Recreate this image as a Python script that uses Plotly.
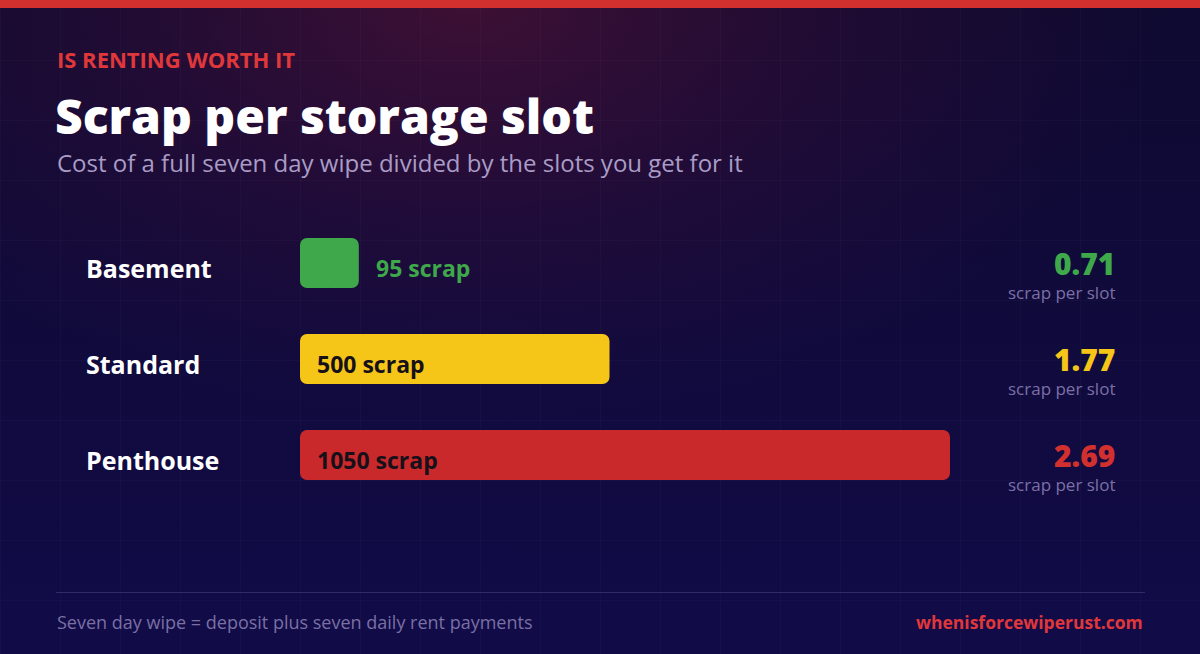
import base64
import plotly.graph_objects as go

# data
rooms = ["Basement", "Standard", "Penthouse"]
wipe_cost = [95, 500, 1050]  # scrap for a full seven day wipe
per_slot = [0.71, 1.77, 2.69]  # scrap per storage slot

W, H = 1200, 654
bar_colors = ["#3ea84a", "#f5c518", "#c9292b"]
value_colors = ["#3ea84a", "#f5c518", "#d2302f"]
RED = "#e0383a"
FONT = "Open Sans"


def px(x):
    return x / W


def py(y):
    # pixel from top -> paper
    return 1 - y / H


# background: gradient + red glow + faint grid, as an inline svg
svg = f"""<svg xmlns='http://www.w3.org/2000/svg' width='{W}' height='{H}'>
<defs>
<linearGradient id='bg' x1='0' y1='0' x2='0' y2='1'>
<stop offset='0' stop-color='#0f0a30'/><stop offset='1' stop-color='#110b48'/>
</linearGradient>
<radialGradient id='glow' gradientUnits='userSpaceOnUse' cx='470' cy='0' r='700'
 gradientTransform='translate(470 0) scale(1 0.6) translate(-470 0)'>
<stop offset='0' stop-color='#c42040' stop-opacity='0.26'/>
<stop offset='0.5' stop-color='#a01840' stop-opacity='0.12'/>
<stop offset='1' stop-color='#801040' stop-opacity='0'/>
</radialGradient>
<pattern id='grid' width='60' height='60' patternUnits='userSpaceOnUse'>
<path d='M60 0 L0 0 0 60' fill='none' stroke='#ffffff' stroke-opacity='0.035' stroke-width='1'/>
</pattern>
</defs>
<rect width='{W}' height='{H}' fill='url(#bg)'/>
<rect width='{W}' height='{H}' fill='url(#glow)'/>
<rect width='{W}' height='{H}' fill='url(#grid)'/>
</svg>"""
bg_uri = "data:image/svg+xml;base64," + base64.b64encode(svg.encode()).decode()

fig = go.Figure()

# each bar is drawn as two overlapping halves so both ends get rounded corners
for name, cost, col in zip(rooms, wipe_cost, bar_colors):
    fig.add_trace(go.Bar(
        x=[-cost * 0.6], base=[cost * 0.6], y=[name], orientation="h",
        marker=dict(color=col, line=dict(width=0), cornerradius=7),
        width=0.52, hoverinfo="skip", showlegend=False,
    ))
    fig.add_trace(go.Bar(
        x=[cost * 0.6], base=[cost * 0.4], y=[name], orientation="h",
        marker=dict(color=col, line=dict(width=0), cornerradius=7),
        width=0.52, hoverinfo="skip", showlegend=False,
    ))

# row texts sit a few pixels below the bar centre
TXT = -5
annotations = []
for i, (name, cost, val) in enumerate(zip(rooms, wipe_cost, per_slot)):
    # room name
    annotations.append(dict(
        xref="paper", yref="y", x=px(84), y=name, xanchor="left", yanchor="middle",
        yshift=TXT, text=f"<b>{name}</b>", showarrow=False,
        font=dict(family=FONT, size=25, color="white"),
    ))
    # cost label, outside when the bar is too short
    if cost < 200:
        annotations.append(dict(
            xref="x", yref="y", x=cost, y=name, xanchor="left", yanchor="middle",
            xshift=15, yshift=TXT, text=f"<b>{cost} scrap</b>", showarrow=False,
            font=dict(family=FONT, size=23, color=bar_colors[i]),
        ))
    else:
        annotations.append(dict(
            xref="x", yref="y", x=0, y=name, xanchor="left", yanchor="middle",
            xshift=15, yshift=TXT, text=f"<b>{cost} scrap</b>", showarrow=False,
            font=dict(family=FONT, size=23, color="#16101a"),
        ))
    # value on the right
    annotations.append(dict(
        xref="paper", yref="y", x=px(1117), y=name, xanchor="right", yanchor="middle",
        yshift=0, text=f"{val:.2f}", showarrow=False,
        font=dict(family=FONT, size=30, color=value_colors[i], weight=800),
    ))
    annotations.append(dict(
        xref="paper", yref="y", x=px(1117), y=name, xanchor="right", yanchor="middle",
        yshift=-29, text="scrap per slot", showarrow=False,
        font=dict(family=FONT, size=17, color="#7c70a6"),
    ))

# header and footer texts
annotations += [
    dict(xref="paper", yref="paper", x=px(55), y=py(59), xanchor="left", yanchor="middle",
         text="<b>IS RENTING WORTH IT</b>", showarrow=False,
         font=dict(family=FONT, size=22, color=RED)),
    dict(xref="paper", yref="paper", x=px(53), y=py(116), xanchor="left", yanchor="middle",
         text="Scrap per storage slot", showarrow=False,
         font=dict(family=FONT, size=48, color="white", weight=800)),
    dict(xref="paper", yref="paper", x=px(55), y=py(162), xanchor="left", yanchor="middle",
         text="Cost of a full seven day wipe divided by the slots you get for it", showarrow=False,
         font=dict(family=FONT, size=24, color="#a99cc6")),
    dict(xref="paper", yref="paper", x=px(55), y=py(622), xanchor="left", yanchor="middle",
         text="Seven day wipe = deposit plus seven daily rent payments", showarrow=False,
         font=dict(family=FONT, size=18, color="#7a70a4")),
    dict(xref="paper", yref="paper", x=px(1145), y=py(622), xanchor="right", yanchor="middle",
         text="<b>whenisforcewiperust.com</b>", showarrow=False,
         font=dict(family=FONT, size=17.5, color=RED)),
]

fig.update_layout(
    width=W, height=H,
    margin=dict(l=0, r=0, t=0, b=0),
    paper_bgcolor="#100b3c",
    plot_bgcolor="rgba(0,0,0,0)",
    barmode="overlay",
    showlegend=False,
    annotations=annotations,
    images=[dict(source=bg_uri, xref="paper", yref="paper", x=0, y=1,
                 sizex=1, sizey=1, sizing="stretch", xanchor="left", yanchor="top",
                 layer="below")],
    shapes=[
        # red strip along the top
        dict(type="rect", xref="paper", yref="paper", x0=0, x1=1, y0=py(8), y1=1,
             fillcolor="#d2302f", line_width=0),
        # footer divider
        dict(type="line", xref="paper", yref="paper", x0=px(56), x1=px(1145),
             y0=py(592.5), y1=py(592.5), line=dict(color="rgba(150,140,210,0.25)", width=1)),
    ],
    xaxis=dict(domain=[px(300), px(950)], range=[0, 1050], visible=False, fixedrange=True),
    yaxis=dict(domain=[py(503), py(215)], range=[2.5, -0.5], type="category",
               categoryorder="array", categoryarray=rooms, visible=False, fixedrange=True),
)

# drop the default page margin so the figure sits at the window corner
fig.write_html("out.html", config=dict(displayModeBar=False),
               post_script="document.body.style.margin='0';document.body.style.overflow='hidden';")
